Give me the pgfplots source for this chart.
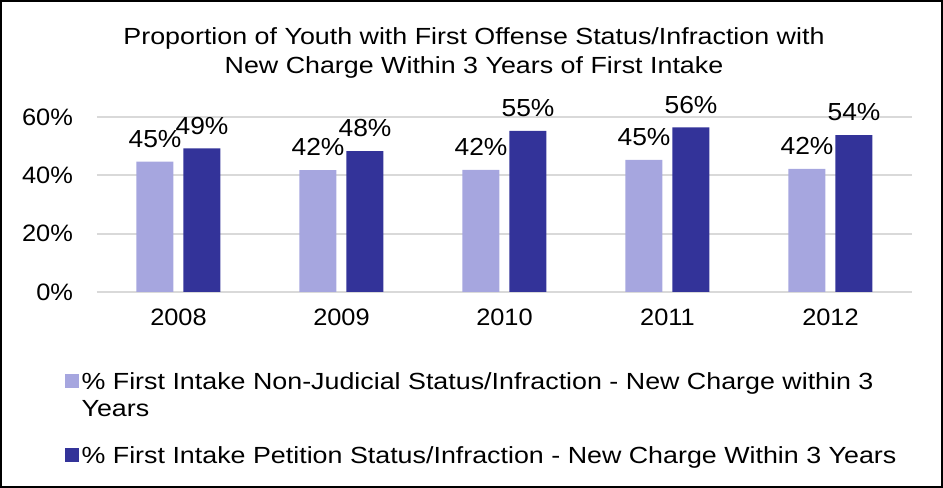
\documentclass[border=0pt]{standalone}
\usepackage{fontspec}
\setmainfont{Liberation Sans}
\newfontfamily\titlefont[FakeStretch=1.15]{Liberation Sans}
\newfontfamily\tickfont[FakeStretch=1.07]{Liberation Sans}
\usepackage{pgfplots}
\pgfplotsset{compat=1.18}
\definecolor{lightbar}{HTML}{A6A6DF}
\definecolor{darkbar}{HTML}{333399}
\definecolor{gridc}{HTML}{D9D9D9}
\pgfplotsset{
  commonaxis/.style={scale only axis, width=611.25pt, height=131.25pt,
    xmin=-0.5, xmax=4.5, ymin=0, ymax=60},
  mylegend/.style={
    legend style={at={([xshift=-24.25pt,yshift=#1]rel axis cs:0,0)}, anchor=north west, draw=none, inner sep=0pt,
      font=\titlefont\fontsize{17.5}{21.75}\selectfont,
      cells={anchor=base west, inner ysep=0pt, text height=15pt, text depth=6.75pt},
      row sep=0pt},
    legend image code/.code={\fill[##1] (-3.25pt,1.2pt) rectangle (7.25pt,11.7pt);}},
}
\begin{document}
\begin{tikzpicture}
\begin{axis}[
  commonaxis,
  ybar, bar width=27.75pt,
  xtick={0,1,2,3,4},
  xticklabels={2008,2009,2010,2011,2012},
  ytick={0,20,40,60},
  yticklabel={\pgfmathprintnumber{\tick}\%},
  /pgf/number format/assume math mode=true,
  ymajorgrids, grid style={gridc, line width=1.5pt},
  axis line style={draw=none},
  major tick length=0pt,
  tick label style={font=\tickfont\fontsize{17.8}{22}\selectfont},
  yticklabel style={xshift=-14.5pt},
  xticklabel style={yshift=-9pt},
  point meta=y,
  nodes near coords={\pgfmathprintnumber[fixed,precision=0]{\pgfplotspointmeta}\%},
  nodes near coords style={font=\tickfont\fontsize{18.5}{22}\selectfont, anchor=south, yshift=7pt, text=black},
  mylegend=-56pt,
  clip=false,
]
\addplot[fill=lightbar, draw=none, bar shift=-17.625pt] coordinates {(0,44.7) (1,41.8) (2,41.9) (3,45.3) (4,42.2)};
\addlegendentry{\% First Intake Non-Judicial Status/Infraction - New Charge within 3}
\addlegendimage{empty legend}
\addlegendentry{Years}
\addplot[fill=darkbar, draw=none, bar shift=17.625pt, forget plot] coordinates {(0,49.2) (1,48.3) (2,55.2) (3,56.4) (4,53.8)};
\end{axis}
\begin{axis}[commonaxis, hide axis, mylegend=-111.75pt]
\addlegendimage{fill=darkbar, draw=none}
\addlegendentry{\% First Intake Petition Status/Infraction - New Charge Within 3 Years}
\end{axis}
\node[align=center, font=\titlefont\fontsize{17.5}{21.75}\selectfont] at (282.75pt,179pt)
  {Proportion of Youth with First Offense Status/Infraction with\\New Charge Within 3 Years of First Intake};
\draw[line width=1.2pt, black] (-72.15pt,-146.4pt) rectangle (633.9pt,218.4pt);
\end{tikzpicture}
\end{document}
